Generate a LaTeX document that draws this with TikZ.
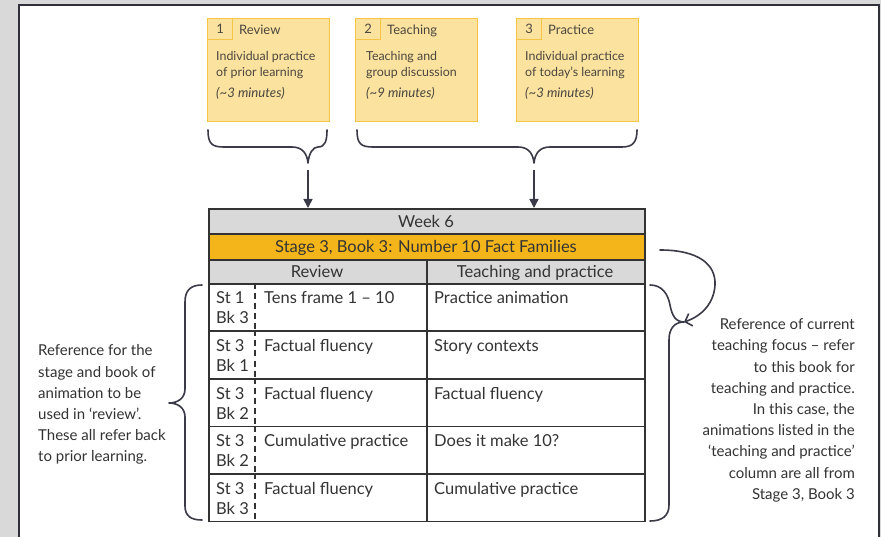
\documentclass[tikz,border=0pt]{standalone}
\usepackage{fontspec}
\setmainfont{Lato}
\usetikzlibrary{arrows.meta}
\definecolor{pagegrey}{HTML}{D9D9D9}
\definecolor{frameink}{HTML}{30303A}
\definecolor{boxfill}{HTML}{FBE29E}
\definecolor{boxline}{HTML}{F4C445}
\definecolor{stagefill}{HTML}{F3B519}
\definecolor{headgrey}{HTML}{D9D9D9}
\definecolor{ink}{HTML}{333333}
\definecolor{boxink}{HTML}{4A4740}
\definecolor{braceink}{HTML}{3A3A48}
\begin{document}
\begin{tikzpicture}[x=1pt,y=-1pt,
  ybox/.style={draw=boxline, fill=boxfill, line width=1.2pt, minimum width=122pt, minimum height=103pt, anchor=north west, inner sep=0pt},
  ynum/.style={draw=boxline, line width=1.2pt, minimum width=25pt, minimum height=21pt, anchor=north west, inner sep=0pt, text=boxink, font=\fontsize{13}{15}\selectfont},
  yhead/.style={anchor=base west, inner sep=0pt, text=boxink, font=\fontsize{13}{15}\selectfont},
  ybody/.style={anchor=north west, inner sep=0pt, align=left, text=boxink, font=\fontsize{12.4}{16}\selectfont},
  ytime/.style={anchor=base west, inner sep=0pt, text=boxink, font=\fontsize{13.2}{16}\selectfont\itshape},
  cell/.style={draw=ink, line width=1.6pt, anchor=north west, inner sep=0pt},
  txt/.style={inner sep=0pt, text=ink, font=\fontsize{16.5}{20}\selectfont},
  sidetxt/.style={inner sep=0pt, text=ink, font=\fontsize{15}{21.2}\selectfont},
  brace/.style={draw=braceink, line width=1.6pt, line cap=round, line join=round},
  dashsep/.style={draw=ink, line width=1.5pt, dash pattern=on 6pt off 4pt},
  downarrow/.style={draw=braceink, line width=1.6pt, -{Triangle[width=9pt,length=9pt]}},
]
\useasboundingbox (0,0) rectangle (881,537);
\fill[pagegrey] (0,0) rectangle (881,537);
\fill[white] (19,5.5) rectangle (879,537);
\draw[frameink, line width=2pt] (19,537) -- (19,5.5) -- (879,5.5) -- (879,537);

% yellow boxes
\node[ybox] (box1) at (207,18) {};
\node[ybox] (box2) at (355,18) {};
\node[ybox] (box3) at (516,18) {};
\node[ynum] (n1) at (box1.north west) {1};
\node[ynum] (n2) at (box2.north west) {2};
\node[ynum] (n3) at (box3.north west) {3};
\node[yhead] (h1) at (239,34.3) {Review};
\node[yhead] (h2) at (387,34.3) {Teaching};
\node[yhead] (h3) at (548,34.3) {Practice};
\node[ybody] (b1) at (216,51) {Individual practice\\of prior learning};
\node[ybody] (b2) at (366,51) {Teaching and\\group discussion};
\node[ybody] (b3) at (525,51) {Individual practice\\of today's learning};
\node[ytime] (t1) at (216,97.5) {(\textasciitilde3 minutes)};
\node[ytime] (t2) at (366,97.5) {(\textasciitilde9 minutes)};
\node[ytime] (t3) at (525,97.5) {(\textasciitilde3 minutes)};

% braces under boxes
\coordinate (tip1) at (308,163);
\coordinate (tip2) at (534,163);
\draw[brace] (208,130) .. controls (208,144) and (212,147) .. (224,147) -- (292,147)
  .. controls (302,147) and (307,153) .. (tip1)
  .. controls (309,153) and (313,147) .. (318,147)
  .. controls (325,147) and (327,141) .. (327,130);
\draw[brace] (357,130) .. controls (357,144) and (361,147) .. (373,147) -- (518,147)
  .. controls (528,147) and (533,153) .. (tip2)
  .. controls (535,153) and (540,147) .. (550,147) -- (622,147)
  .. controls (633,147) and (637,142) .. (637,130);
\coordinate (a1s) at (308,170);
\coordinate (a2s) at (534,170);

% table
\node[cell, fill=headgrey, minimum width=436pt, minimum height=25pt] (week) at (208,208) {};
\node[cell, fill=stagefill, minimum width=436pt, minimum height=26pt] (stage) at (208,233) {};
\node[cell, fill=headgrey, minimum width=218pt, minimum height=24pt] (hrev) at (208,259) {};
\node[cell, fill=headgrey, minimum width=218pt, minimum height=24pt] (htp) at (426,259) {};
\node[txt, anchor=base] (weektxt) at (426,227.5) {Week 6};
\node[txt, anchor=base] (stagetxt) at (426,253) {Stage 3, Book 3: Number 10 Fact Families};
\node[txt, anchor=base] (hrevtxt) at (317,277.5) {Review};
\node[txt, anchor=base] (htptxt) at (535,277.5) {Teaching and practice};

\foreach \i/\st/\bk/\rv/\tp in {0/1/3/Tens frame 1 -- 10/Practice animation,
    1/3/1/Factual fluency/Story contexts,
    2/3/2/Factual fluency/Factual fluency,
    3/3/2/Cumulative practice/Does it make 10?,
    4/3/3/Factual fluency/Cumulative practice}{
  \pgfmathsetmacro{\top}{283+47.5*\i}
  \node[cell, minimum width=218pt, minimum height=47.5pt] (rv\i) at (208,\top) {};
  \node[cell, minimum width=218pt, minimum height=47.5pt] (tp\i) at (426,\top) {};
  \draw[dashsep] ([xshift=47pt]rv\i.north west) -- ([xshift=47pt]rv\i.south west);
  \node[txt, anchor=base west] (st\i) at ([xshift=8pt,yshift=-21pt]rv\i.north west) {St \st};
  \node[txt, anchor=base west] (bk\i) at ([xshift=8pt,yshift=-41pt]rv\i.north west) {Bk \bk};
  \node[txt, anchor=base west] (rvt\i) at ([xshift=56pt,yshift=-21pt]rv\i.north west) {\rv};
  \node[txt, anchor=base west] (tpt\i) at ([xshift=8pt,yshift=-21pt]tp\i.north west) {\tp};
}

\draw[downarrow] (a1s) -- (a1s |- week.north);
\draw[downarrow] (a2s) -- (a2s |- week.north);

% left brace
\coordinate (ltip) at (169,403);
\draw[brace] (202,285) .. controls (191,285) and (185,290) .. (185,302) -- (185,389)
  .. controls (185,398) and (178,403) .. (ltip)
  .. controls (178,403) and (185,408) .. (185,417) -- (185,506)
  .. controls (185,516) and (191,520) .. (202,520);
\node[sidetxt, anchor=north west, align=left] (ltext) at (38,344.6)
  {Reference for the\\stage and book of\\animation to be\\used in `review'.\\These all refer back\\to prior learning.};

% right brace
\coordinate (rtip) at (684,322);
\draw[brace] (650,285) .. controls (662,285) and (668,294) .. (670,305)
  .. controls (672,316) and (676,322) .. (rtip)
  .. controls (675,322) and (669,328) .. (669,340) -- (669,505)
  .. controls (669,516) and (662,521) .. (650,521);
\coordinate (cas) at (660,250);
\draw[brace, -{Straight Barb[length=6pt,width=13pt]}] (cas) .. controls (698,250) and (716,264) .. (715,285)
  .. controls (714,303) and (702,316) .. (rtip);
\node[sidetxt, anchor=north east, align=right] (rtext) at (855,318.6)
  {Reference of current\\teaching focus -- refer\\to this book for\\teaching and practice.\\In this case, the\\animations listed in the\\`teaching and practice'\\column are all from\\Stage 3, Book 3};
\end{tikzpicture}
\end{document}
